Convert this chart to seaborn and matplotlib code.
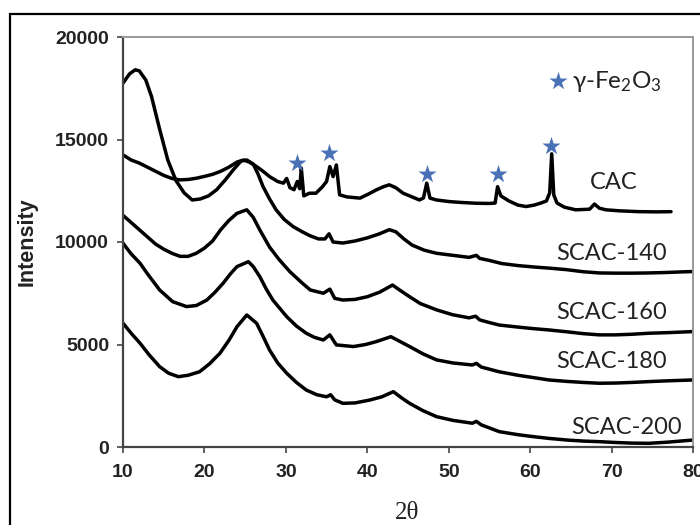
import matplotlib
matplotlib.use("Agg")
import matplotlib.pyplot as plt
import numpy as np
import pandas as pd
import seaborn as sns
from matplotlib.patches import Rectangle

# ---- diffraction patterns (2θ in degrees, intensity in counts) ----
cac_x = [10, 11, 12, 13, 14, 15, 16, 17, 18, 19, 20, 21, 22, 23, 24, 24.8, 25.5,
         26.4, 27.2, 28, 29, 29.7, 30.1, 30.5, 31.0, 31.4, 31.7, 31.9, 32.2, 32.9,
         33.7, 34.5, 35.0, 35.4, 35.8, 36.2, 36.6, 37.5, 39.1, 40.2, 41.1, 42.0,
         42.7, 43.5, 44.4, 45.5, 46.4, 46.9, 47.3, 47.7, 48.5, 50.1, 51.5, 53.4,
         55.0, 55.7, 56.0, 56.4, 57.4, 58.5, 59.5, 60.5, 61.3, 62.0, 62.4, 62.65,
         62.9, 63.3, 64.2, 65.6, 67.3, 67.9, 68.5, 69.3, 71.0, 73.4, 75.5, 77.3]
cac_y = [14250, 14000, 13850, 13650, 13450, 13250, 13100, 13030, 13050, 13110,
         13200, 13300, 13450, 13650, 13900, 14000, 13900, 13680, 13450, 13190,
         12950, 12870, 13100, 12650, 12550, 12950, 12600, 13600, 12250, 12380,
         12380, 12700, 12950, 13680, 13190, 13760, 12300, 12200, 12140, 12350,
         12540, 12700, 12790, 12650, 12380, 12200, 12050, 12150, 12870, 12140,
         12050, 11970, 11930, 11890, 11880, 11900, 12700, 12250, 12000, 11800,
         11730, 11800, 11900, 12000, 12400, 14300, 12300, 11900, 11700, 11570,
         11600, 11850, 11650, 11570, 11520, 11480, 11470, 11480]

scac140_x = [10, 10.8, 11.5, 12, 12.8, 13.5, 14.5, 15.5, 16.5, 17.5, 18.5, 19.5,
             20.5, 21.5, 22.5, 23.5, 24.5, 25.2, 26, 26.6, 27.2, 28, 28.8, 29.8,
             30.9, 32, 33, 34, 34.8, 35.3, 35.8, 37, 38.5, 40, 41.5, 42.7, 43.5,
             44.5, 45.5, 47, 48.5, 50.5, 52.5, 53.4, 53.8, 55, 56.5, 58.5, 60.5,
             62.5, 64.5, 66.5, 68.5, 70.5, 72.5, 74.5, 76.5, 78.5, 80]
scac140_y = [17750, 18200, 18400, 18350, 17900, 17100, 15500, 14000, 13000, 12400,
             12050, 12100, 12250, 12550, 13000, 13500, 13950, 14000, 13800, 13300,
             12700, 12100, 11570, 11100, 10750, 10500, 10300, 10150, 10150, 10400,
             10000, 9950, 10050, 10200, 10400, 10600, 10500, 10150, 9850, 9600,
             9450, 9350, 9250, 9350, 9200, 9100, 8950, 8850, 8780, 8720, 8650,
             8550, 8490, 8480, 8480, 8490, 8510, 8540, 8560]

scac160_x = [10, 11, 12, 13, 14, 15, 16, 17, 18, 19, 20, 21, 22, 23, 24, 25.2, 26,
             26.8, 28, 29.2, 30.5, 32, 33, 34.6, 35.4, 36, 37, 38.5, 40, 41.5, 43.1,
             44, 45.2, 46.5, 48.5, 50.5, 52.5, 53.3, 53.8, 55, 56.2, 58.5, 60.5,
             62.3, 64.5, 66.5, 68.5, 70.5, 72.5, 74.6, 77, 80]
scac160_y = [11300, 10950, 10600, 10250, 9900, 9650, 9450, 9300, 9300, 9450, 9700,
             10050, 10600, 11050, 11400, 11570, 11200, 10590, 9750, 9130, 8550,
             8000, 7660, 7500, 7700, 7250, 7170, 7200, 7330, 7550, 7900, 7650,
             7330, 7000, 6690, 6450, 6300, 6380, 6200, 6070, 5950, 5850, 5770,
             5710, 5620, 5530, 5470, 5470, 5500, 5550, 5580, 5630]

scac180_x = [10, 11, 12.1, 13, 14.5, 16.1, 17.8, 19, 20.3, 21.3, 22.3, 23.2, 24,
             25.4, 26, 26.8, 27.6, 28.4, 30.1, 31.3, 32.5, 33.5, 34.6, 35.4, 36.2,
             38.3, 39.8, 41.1, 42.9, 44, 45.2, 46.8, 48.5, 50.5, 52.9, 53.4, 54,
             56.2, 58.5, 60.5, 62.3, 64.5, 66.5, 68.5, 70.5, 72.5, 74.6, 77, 80]
scac180_y = [9940, 9420, 8960, 8450, 7660, 7090, 6850, 6900, 7170, 7550, 7990,
             8450, 8800, 9040, 8800, 8310, 7700, 7170, 6360, 5900, 5550, 5350,
             5220, 5470, 4980, 4900, 5000, 5140, 5380, 5150, 4900, 4550, 4250,
             4100, 4000, 4080, 3900, 3670, 3500, 3380, 3270, 3200, 3150, 3110,
             3120, 3150, 3190, 3230, 3270]

scac200_x = [10, 11, 12.1, 13.2, 14.5, 15.6, 16.8, 18, 19.4, 20.6, 21.9, 23, 24,
             25.2, 26.4, 27.2, 28, 29, 30.1, 31.3, 32.5, 33.8, 35, 35.5, 36, 37,
             38.5, 40.3, 41.8, 43.2, 44.2, 45.2, 46.8, 48.5, 50.5, 52.9, 53.4, 54,
             56.2, 58.5, 60.5, 62.3, 64.5, 66.5, 68.5, 70.5, 72.5, 74.6, 77, 80]
scac200_y = [6040, 5550, 5060, 4500, 3920, 3600, 3430, 3500, 3670, 4050, 4570,
             5200, 5870, 6440, 6040, 5400, 4730, 4100, 3600, 3150, 2780, 2550,
             2450, 2550, 2300, 2130, 2150, 2290, 2450, 2700, 2400, 2130, 1780,
             1480, 1300, 1160, 1250, 1080, 750, 600, 500, 420, 340, 290, 260,
             220, 190, 180, 240, 340]

samples = ["CAC", "SCAC-140", "SCAC-160", "SCAC-180", "SCAC-200"]
series_x = [cac_x, scac140_x, scac160_x, scac180_x, scac200_x]
series_y = [cac_y, scac140_y, scac160_y, scac180_y, scac200_y]

# curve labels: (2θ, intensity) anchor of each name
label_x = [67.3, 63.2, 63.2, 63.2, 65.0]
label_y = [12880, 9430, 6560, 4160, 930]

# γ-Fe2O3 reflections marked with stars
star_x = [31.4, 35.25, 47.3, 56.0, 62.6]
star_y = [13870, 14360, 13320, 13320, 14690]
legend_star = (63.4, 17830)
legend_text = "γ-Fe$_2$O$_3$"

x_ticks = [10, 20, 30, 40, 50, 60, 70, 80]
y_ticks = [0, 5000, 10000, 15000, 20000]

df = pd.concat(
    [pd.DataFrame({"2θ": x, "Intensity": y, "sample": s})
     for s, x, y in zip(samples, series_x, series_y)],
    ignore_index=True,
)

sns.set_theme(style="ticks")
plt.rcParams["font.family"] = ["Liberation Sans", "DejaVu Sans"]
plt.rcParams["mathtext.default"] = "regular"

W, H = 700, 525
fig = plt.figure(figsize=(7, 5.25), dpi=100)
ax = fig.add_axes([123 / W, 1 - 447 / H, 570 / W, 410 / H])

sns.lineplot(data=df, x="2θ", y="Intensity", hue="sample",
             palette={s: "black" for s in samples}, estimator=None, sort=False,
             linewidth=2.5, legend=False, ax=ax)

star_color = "#4a70b5"
sns.scatterplot(x=star_x, y=star_y, marker="*", s=190, color=star_color,
                linewidth=0, ax=ax, zorder=5)
sns.scatterplot(x=[legend_star[0]], y=[legend_star[1]], marker="*", s=190,
                color=star_color, linewidth=0, ax=ax, zorder=5)
ax.text(65.2, legend_star[1], legend_text, fontsize=17.5, family=["Lato", "DejaVu Sans"],
        va="center", ha="left", color="#222222")

for name, lx, ly in zip(samples, label_x, label_y):
    ax.text(lx, ly, name, fontsize=17, family=["Lato", "DejaVu Sans"],
            va="center", ha="left", color="#222222")

ax.set_xlim(10, 80)
ax.set_ylim(0, 20000)
ax.set_xticks(x_ticks)
ax.set_yticks(y_ticks)
ax.set_xlabel("")
ax.set_ylabel("")

for side in ["left", "bottom"]:
    ax.spines[side].set_color("#444444")
    ax.spines[side].set_linewidth(1.6)
for side in ["top", "right"]:
    ax.spines[side].set_visible(True)
    ax.spines[side].set_color("#999999")
    ax.spines[side].set_linewidth(1.4)

ax.tick_params(direction="out", length=4, width=1.3, color="#555555",
               labelsize=14, labelcolor="#222222")
ax.tick_params(axis="x", pad=8)
ax.tick_params(axis="y", pad=6)
for lbl in ax.get_xticklabels() + ax.get_yticklabels():
    lbl.set_fontweight("bold")

fig.text(27 / W, 1 - 242 / H, "Intensity", rotation=90, fontsize=15.5,
         fontweight="bold", ha="center", va="center", color="#222222")
fig.text(407 / W, 1 - 513 / H, "2θ", fontsize=18, family=["Liberation Serif"],
         ha="center", va="center", color="#222222")

# outer frame, open past the right and bottom edges
fig.add_artist(Rectangle((10 / W, -0.2), 1.5, 1 - 14 / H + 0.2,
                         transform=fig.transFigure, fill=False,
                         edgecolor="black", linewidth=1.6))

fig.savefig("out.png", dpi=100)
